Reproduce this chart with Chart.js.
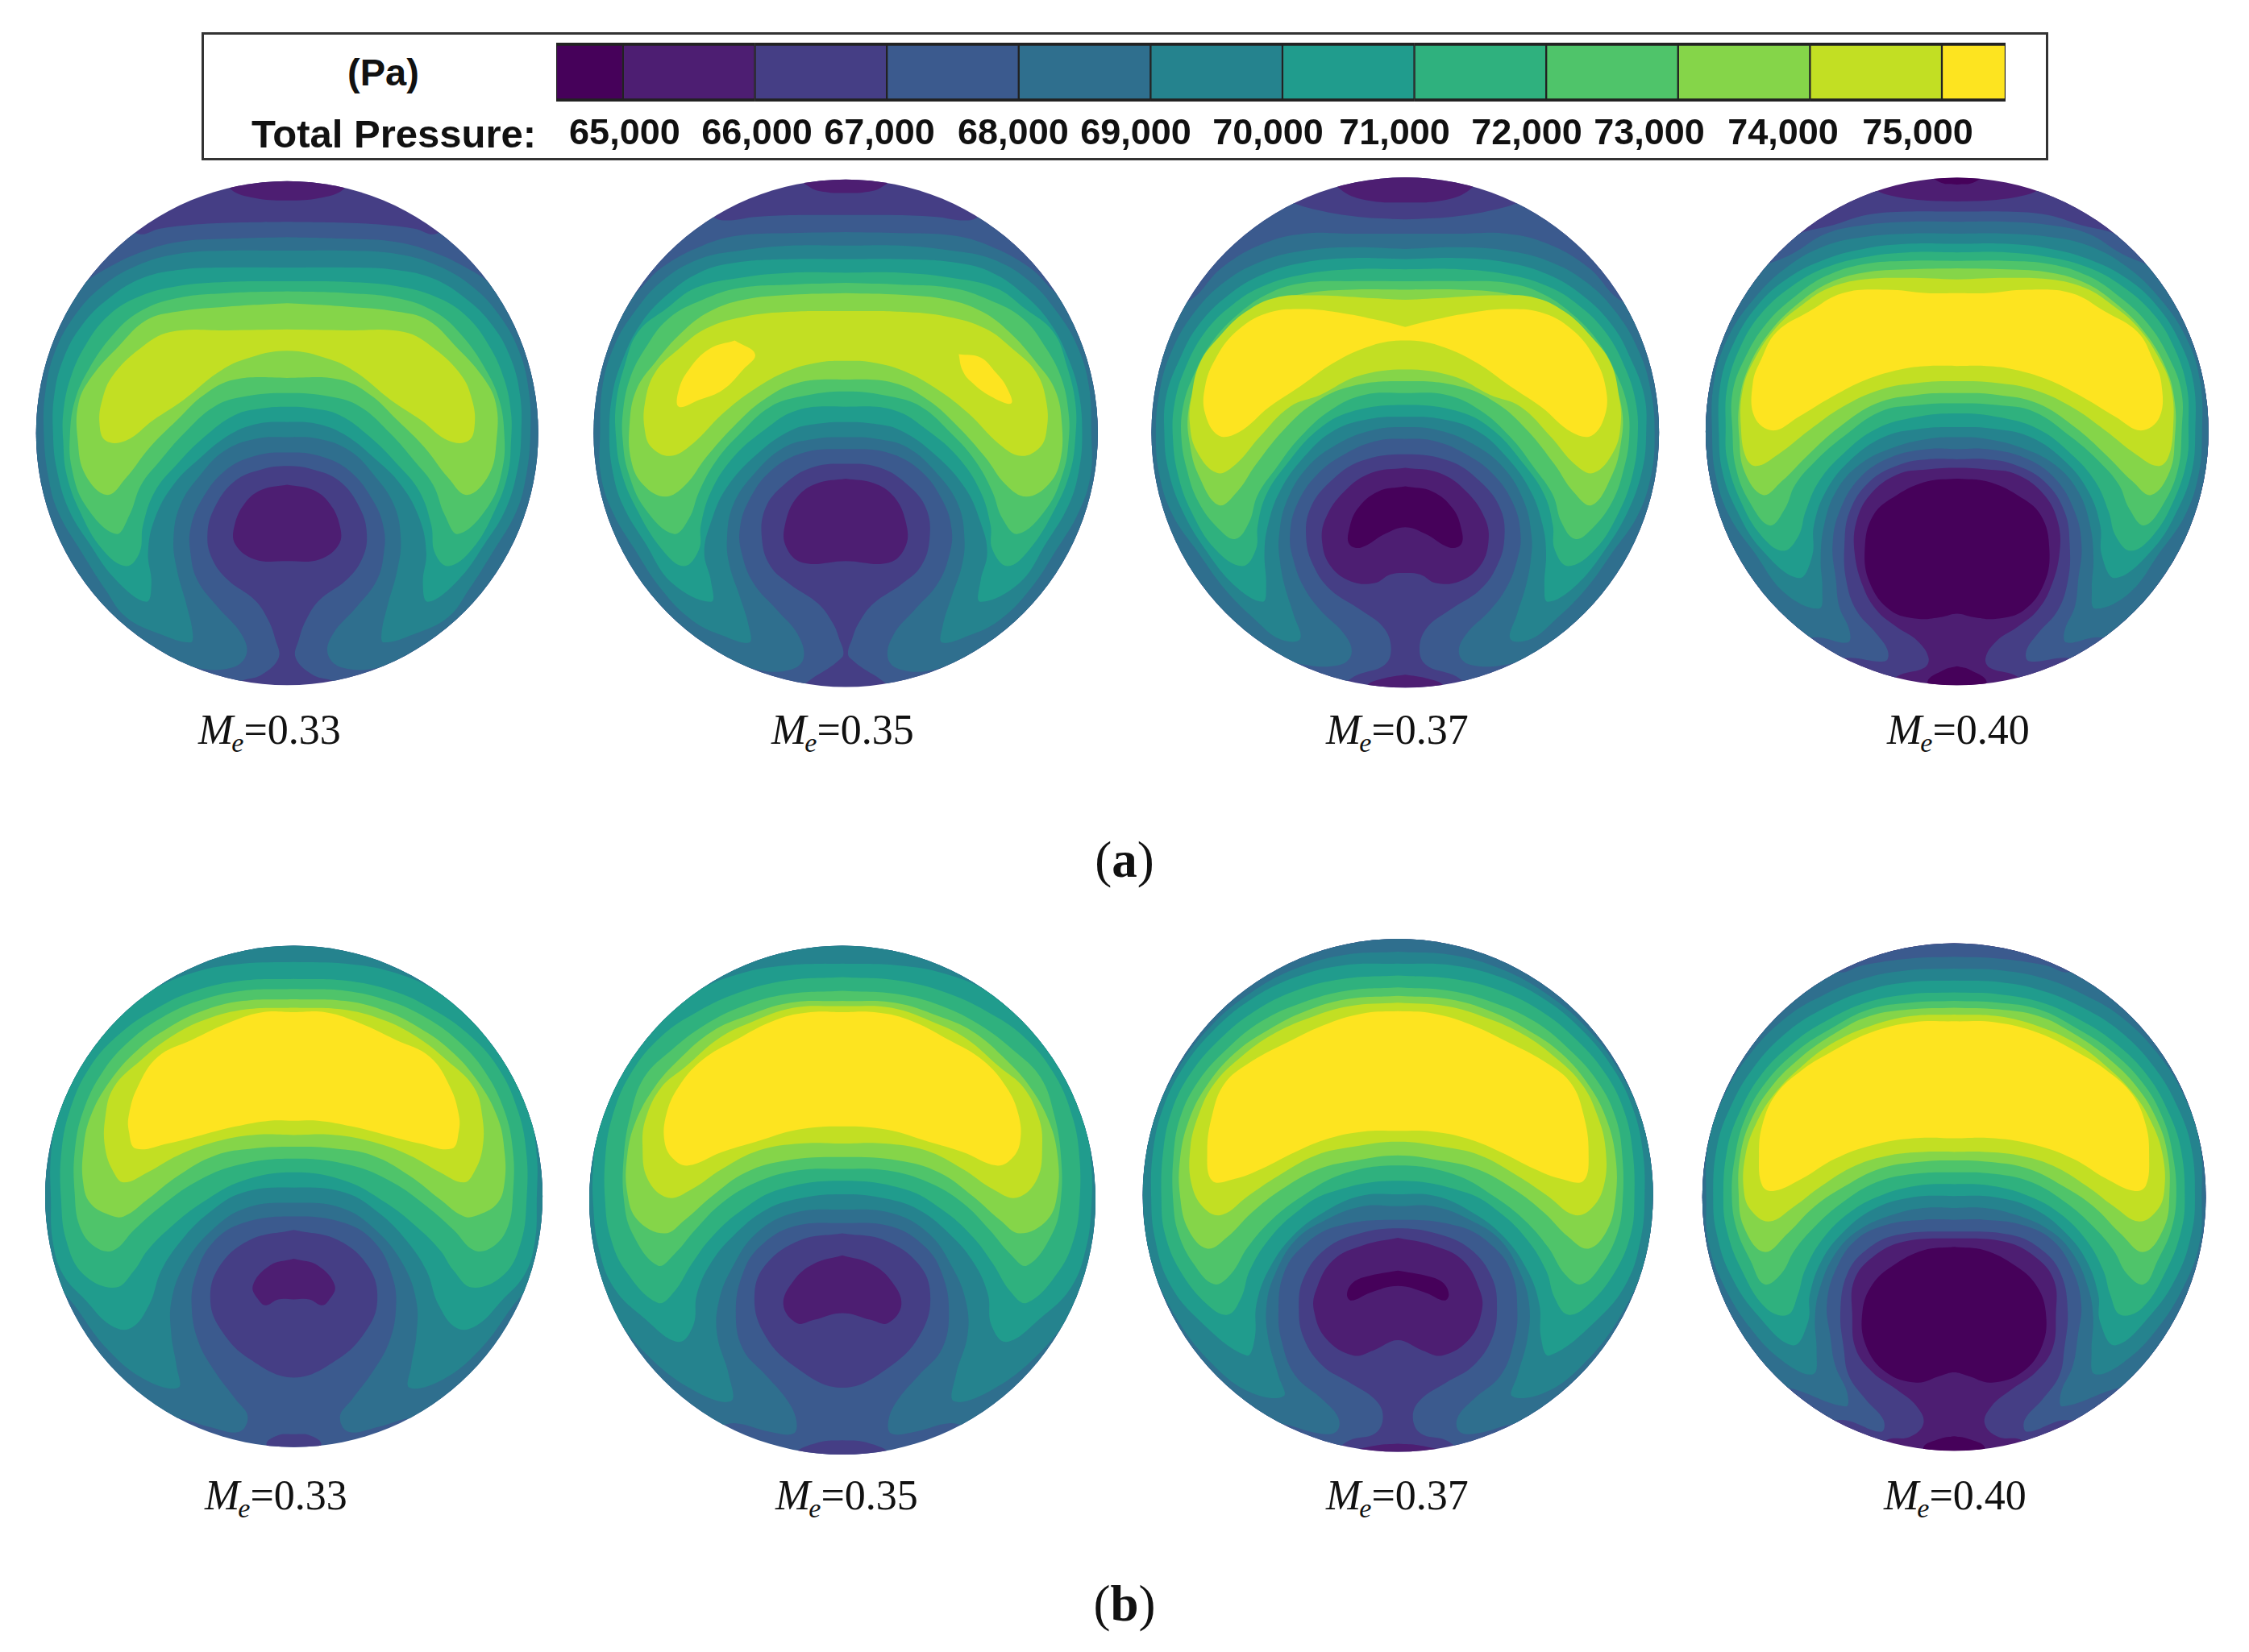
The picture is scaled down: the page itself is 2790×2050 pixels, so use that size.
<!DOCTYPE html>
<html>
<head>
<meta charset="utf-8">
<title>Total pressure contours</title>
<script src="https://cdn.jsdelivr.net/npm/chart.js@4"></script>
<style>
body { margin: 0; background: #fff; width: 2790px; height: 2050px; position: relative; overflow: hidden; }
canvas { position: absolute; }
.frame { position: absolute; left: 250px; top: 40px; width: 2285px; height: 153px; border: 3px solid #333; }
.bar-text { position: absolute; font: bold 47px "Liberation Sans", Arial, sans-serif; color: #111; line-height: 1; white-space: nowrap; }
.mach { position: absolute; font: 52px "Liberation Serif", serif; line-height: 1; color: #111; white-space: nowrap; }
.mach i.sub { font-size: 34px; position: relative; top: 10px; line-height: 0; margin-left: -2px; }
.panel { position: absolute; font: 63px "Liberation Serif", serif; line-height: 1; color: #111; width: 200px; text-align: center; }
</style>
</head>
<body>
<div class="frame"></div>
<div class="bar-text" style="left:431px;top:66px">(Pa)</div>
<div class="bar-text" style="left:312px;top:142px;font-size:49px">Total Pressure:</div>

<script>
// colour bar
var levelEdges = [64493, 65000, 66000, 67000, 68000, 69000, 70000, 71000, 72000, 73000, 74000, 75000, 75483];
var levelColors = ["#46015a", "#4d1e72", "#453e85", "#3b5a8e", "#2f6f8e", "#25838e", "#209c8d", "#2fb17e", "#4fc46a", "#85d549", "#c2df23", "#fde420"];
var tickLabels = ["65,000", "66,000", "67,000", "68,000", "69,000", "70,000", "71,000", "72,000", "73,000", "74,000", "75,000"];
// where each label sits on the pressure scale in the picture, they are not exactly on the thousands
var tickAnchors = [65012, 66015, 66944, 67958, 68888, 69890, 70850, 71852, 72781, 73796, 74817];

var machLabels = ["0.33", "0.35", "0.37", "0.40"];
var panelLabels = ["a", "b"];

// contours: [level index, half outline x,y,x,y...] read off each disc, going from the
// top of the centre line round the left side back to the centre line. third item true = whole outline
var contoursA33 = [
  [3, [775,155,600,158,480,165,400,175,335,190,250,120,40,300,0,770,60,1300,380,1500,560,1530,650,1505,700,1490,750,1440,740,1385,720,1330,680,1270,600,1210,555,1150,540,1080,560,1000,620,920,700,885,775,875]],
  [4, [775,200,600,205,450,215,330,250,230,300,150,350,40,400,0,770,60,1300,380,1420,500,1468,610,1470,655,1430,640,1370,570,1290,510,1210,490,1130,490,1060,520,980,590,890,680,845,775,835]],
  [5, [775,240,600,240,450,250,330,285,230,345,150,430,90,540,62,660,58,780,70,900,100,1010,170,1130,240,1240,300,1320,400,1370,490,1395,497,1370,480,1290,450,1180,440,1090,460,990,520,900,590,830,680,795,775,790]],
  [6, [775,290,600,290,470,295,350,320,250,380,170,460,115,560,88,670,85,780,95,880,130,1000,190,1100,270,1210,360,1275,375,1220,365,1130,385,1030,440,930,520,850,610,780,690,750,775,745]],
  [7, [775,330,600,332,450,345,340,375,250,430,180,520,135,620,115,720,115,800,125,900,165,1010,230,1120,300,1170,340,1130,350,1050,385,950,450,870,530,790,620,725,700,705,775,700]],
  [8, [775,360,600,365,450,380,340,420,260,490,190,590,150,680,135,780,140,880,180,990,270,1075,310,1020,345,930,400,860,470,780,560,700,650,670,775,660]],
  [9, [775,395,600,405,450,420,360,445,280,520,200,610,160,690,158,800,180,900,245,960,300,910,370,820,450,740,530,665,620,620,775,615]],
  [10, [775,472,600,475,430,480,340,530,260,610,230,680,222,750,240,800,300,800,380,740,470,680,570,600,650,560,775,535]],
  [1, [775,20,600,20,610,60,680,85,775,92]],
  [1, [775,930,700,945,650,985,620,1050,622,1105,680,1150,775,1155]]
];
var contoursA35 = [
  [3, [782,135,650,135,520,140,415,150,340,120,40,300,0,770,60,1300,380,1500,620,1530,700,1490,770,1440,775,1420,765,1390,745,1340,700,1280,620,1225,560,1170,535,1090,545,1000,600,930,680,880,782,868]],
  [4, [782,185,620,188,470,195,360,225,240,290,140,380,40,400,0,770,60,1300,400,1425,520,1475,620,1475,658,1440,640,1370,580,1300,510,1220,475,1130,470,1060,495,980,560,890,660,835,782,825]],
  [5, [782,225,620,225,470,240,350,265,240,330,160,420,100,520,65,640,58,780,60,900,95,1010,160,1120,240,1240,330,1330,420,1375,498,1395,497,1350,470,1260,440,1170,432,1090,450,990,510,900,600,820,690,795,782,790]],
  [6, [782,265,620,265,460,275,350,305,250,375,175,460,125,560,95,660,85,780,95,890,125,990,190,1100,270,1220,385,1275,385,1215,365,1130,385,1040,430,940,520,840,620,770,700,750,782,745]],
  [7, [782,305,620,305,470,320,340,350,255,410,170,480,130,580,105,690,105,790,120,890,165,1000,240,1120,305,1170,350,1120,355,1050,385,950,450,850,540,770,640,710,782,700]],
  [8, [782,335,620,340,470,350,360,385,260,440,190,530,145,620,125,720,125,800,140,890,190,1000,275,1075,320,1030,350,950,400,860,470,780,560,700,650,670,782,655]],
  [9, [782,365,620,370,480,385,380,420,300,480,220,570,165,650,145,750,150,860,185,930,250,965,310,930,370,850,450,760,540,680,640,630,782,620]],
  [10, [782,418,620,420,480,435,370,470,290,530,220,600,190,690,190,770,210,820,265,845,330,810,420,720,510,650,610,595,700,570,782,565]],
  [11, [455,505,515,545,480,590,420,650,350,680,290,700,290,650,320,590,380,530], true],
  [11, [1115,545,1180,555,1225,600,1255,640,1270,690,1210,670,1150,625,1125,590], true],
  [1, [782,15,640,15,680,55,730,68,782,70]],
  [1, [782,912,700,925,640,965,605,1040,605,1110,655,1160,782,1155]]
];
var contoursA37 = [
  [3, [780,148,640,140,520,120,440,95,380,60,60,60,0,770,60,1300,380,1500,560,1530,640,1490,720,1460,738,1410,715,1350,650,1300,560,1240,510,1170,488,1090,500,1000,560,920,650,860,780,840]],
  [4, [780,190,620,190,480,190,360,220,240,290,140,390,40,400,0,770,60,1300,380,1425,480,1460,590,1460,622,1425,600,1370,530,1300,480,1230,450,1150,440,1080,460,990,520,900,610,835,700,800,780,795]],
  [5, [780,235,620,230,480,240,360,270,250,330,160,420,90,540,55,660,45,780,55,900,95,1020,170,1130,250,1240,340,1330,410,1385,470,1385,450,1310,425,1230,410,1150,408,1080,430,980,490,880,580,810,680,770,780,760]],
  [6, [780,265,620,262,480,275,360,310,260,370,170,460,115,560,75,670,70,780,80,880,120,1000,190,1120,280,1230,360,1275,370,1230,365,1130,375,1050,410,950,480,850,570,770,680,735,780,730]],
  [7, [780,295,620,295,480,310,360,345,270,400,190,480,130,590,100,690,95,790,110,900,150,1010,220,1120,300,1170,340,1120,345,1050,370,960,430,870,520,770,620,715,780,695]],
  [8, [780,330,620,330,480,335,380,365,290,425,210,510,155,610,125,700,120,790,135,880,170,980,230,1060,280,1090,320,1040,345,960,400,880,470,790,560,710,660,665,780,660]],
  [9, [780,355,620,355,490,365,380,395,290,450,215,540,165,630,140,720,145,810,170,900,230,990,285,950,340,870,420,770,510,690,620,640,780,625]],
  [10, [780,385,650,378,510,372,400,378,310,420,235,490,175,570,150,670,145,750,165,830,225,895,280,870,350,790,440,700,530,665,640,610,780,590]],
  [11, [780,465,700,445,600,425,480,412,370,425,280,480,220,560,190,640,190,720,230,785,290,775,380,700,470,640,570,570,680,520,780,505]],
  [1, [780,10,560,10,590,60,660,90,780,98]],
  [1, [780,1490,720,1500,670,1520,700,1544,780,1544]],
  [1, [780,880,680,895,600,950,545,1030,535,1100,560,1170,620,1215,690,1220,735,1195,780,1190]],
  [0, [780,935,700,950,640,1000,615,1060,615,1105,650,1115,720,1075,780,1055]]
];
var contoursA40 = [
  [2, [767,95,650,90,560,75,490,50,60,60,0,770,60,1300,380,1500,530,1530,600,1490,670,1470,683,1440,650,1390,590,1350,530,1300,490,1230,465,1130,470,1040,510,960,590,900,680,885,767,880]],
  [3, [767,125,620,125,500,135,400,165,300,190,40,300,0,770,60,1300,350,1450,450,1440,555,1450,563,1420,530,1370,470,1300,440,1210,435,1110,450,1010,510,920,600,870,680,855,767,855]],
  [4, [767,155,620,155,490,165,380,190,280,250,170,300,40,400,0,770,60,1200,270,1380,360,1380,445,1395,450,1360,420,1290,410,1210,400,1110,420,1010,480,910,570,850,680,825,767,825]],
  [5, [767,190,620,190,490,200,380,225,270,285,170,380,90,500,50,630,45,780,55,900,95,1020,170,1130,260,1250,360,1295,370,1240,365,1150,375,1050,410,950,480,870,580,820,680,795,767,790]],
  [6, [767,220,620,220,490,235,380,265,270,320,180,400,110,510,70,630,65,780,75,890,115,1000,190,1120,300,1205,340,1140,345,1050,380,950,450,860,550,790,660,765,767,760]],
  [7, [767,245,620,245,490,260,380,290,280,345,190,425,130,520,90,640,85,760,90,860,130,980,190,1080,255,1125,300,1080,320,1010,360,920,430,840,530,765,650,730,767,720]],
  [8, [767,270,620,270,490,280,380,315,290,375,205,455,140,560,105,660,105,770,115,880,155,980,215,1050,260,1000,290,930,350,860,430,790,540,715,650,695,767,690]],
  [9, [767,292,620,295,490,305,390,335,300,395,215,480,150,590,125,690,125,790,140,890,195,960,250,920,330,840,420,760,530,690,650,665,767,660]],
  [10, [767,325,620,320,490,325,390,350,310,400,235,465,170,560,135,650,130,760,145,850,175,875,240,840,330,770,430,700,540,650,650,630,767,625]],
  [11, [767,365,680,365,560,355,430,365,330,420,235,480,190,560,165,630,170,730,225,770,300,730,400,670,500,620,600,590,680,580,767,580]],
  [0, [767,45,720,40,690,15,767,10]],
  [0, [767,912,680,920,590,960,520,1020,495,1120,510,1220,570,1300,650,1325,720,1320,767,1310]],
  [0, [767,1465,730,1475,680,1510,720,1544,767,1544]]
];
var contoursB33 = [
  [4, [771,10,60,10,0,770,60,1300,300,1450,420,1425,520,1450,610,1465,635,1420,600,1370,540,1290,490,1200,470,1100,480,1010,530,910,620,850,771,830]],
  [5, [771,10,100,10,0,770,60,1000,130,1100,220,1220,330,1310,430,1335,425,1270,410,1180,410,1080,450,970,530,870,630,805,771,790]],
  [6, [771,80,620,85,480,110,350,165,230,250,140,360,80,500,55,650,55,780,60,900,90,1000,160,1080,230,1150,290,1160,345,1090,380,990,440,900,520,820,620,760,771,745]],
  [7, [771,130,620,135,480,165,370,215,260,290,170,390,110,520,85,650,85,780,100,900,150,1000,245,1040,300,990,340,930,410,860,500,790,620,725,771,700]],
  [8, [771,160,620,165,490,195,380,245,290,310,210,400,150,520,125,640,125,760,140,860,185,920,240,930,300,870,380,800,480,730,600,680,771,660]],
  [9, [771,190,620,195,500,225,400,275,310,340,230,430,170,540,150,640,150,730,170,790,225,825,270,830,340,780,430,710,540,650,650,630,771,625]],
  [10, [771,215,630,220,510,250,410,300,320,370,240,450,215,540,215,630,240,700,270,730,340,700,430,650,540,610,650,590,771,590]],
  [11, [771,228,680,228,590,255,470,310,370,360,310,450,285,530,285,580,305,630,400,615,500,590,600,565,700,548,771,548]],
  [2, [771,870,640,900,550,980,525,1080,560,1170,640,1250,771,1305]],
  [2, [771,1472,725,1475,690,1500,720,1525,771,1525]],
  [1, [771,955,700,975,650,1035,670,1080,690,1092,725,1075,771,1075]]
];
var contoursB35 = [
  [4, [784,10,60,10,0,770,60,1300,380,1450,470,1440,570,1465,640,1470,648,1430,620,1370,560,1300,490,1220,470,1110,490,1000,540,920,640,860,784,850]],
  [5, [784,10,100,10,0,770,50,1000,100,1100,200,1230,340,1340,455,1375,450,1300,415,1180,420,1080,460,980,530,880,640,820,784,810]],
  [6, [784,85,620,90,480,115,350,170,230,265,130,390,70,540,50,680,50,800,65,920,110,1040,200,1130,300,1200,345,1150,355,1060,395,970,460,890,560,810,670,775,784,765]],
  [7, [784,125,620,135,480,170,360,225,250,300,160,410,105,540,85,660,85,790,100,890,145,990,240,1085,290,1050,340,970,400,890,490,810,600,750,784,725]],
  [8, [784,165,620,175,490,210,380,265,280,340,200,420,160,530,140,650,140,780,165,880,240,975,290,940,350,870,430,790,530,730,650,695,784,690]],
  [9, [784,195,630,200,500,240,400,285,300,370,230,450,175,550,150,650,150,760,180,840,260,880,320,840,400,770,500,700,620,665,784,655]],
  [10, [784,210,640,215,510,260,420,305,320,390,250,450,205,540,195,620,210,720,270,775,340,750,430,690,540,635,660,615,784,615]],
  [11, [784,228,690,228,590,250,470,310,370,370,300,450,265,530,260,610,285,660,330,680,430,640,530,610,650,575,784,565]],
  [2, [784,880,660,900,560,970,525,1060,550,1170,640,1270,784,1335]],
  [2, [784,1490,720,1495,650,1525,700,1544,784,1544]],
  [1, [784,945,700,970,640,1020,610,1090,650,1145,700,1135,784,1115]]
];
var contoursB37 = [
  [3, [782,5,60,10,0,770,60,1300,380,1500,560,1540,640,1490,715,1470,738,1420,715,1370,640,1320,560,1270,505,1190,490,1100,505,1010,570,925,670,880,782,865]],
  [4, [782,5,60,10,0,770,60,1300,300,1440,430,1440,550,1470,600,1465,607,1425,560,1370,480,1300,440,1200,430,1110,445,1000,500,920,600,860,782,840]],
  [5, [782,50,620,60,480,100,350,170,230,270,130,400,60,550,35,680,30,780,50,950,130,1130,240,1270,350,1350,445,1360,430,1300,400,1190,395,1090,420,1000,480,900,570,840,680,800,782,800]],
  [6, [782,85,620,90,480,125,350,190,240,280,150,390,90,510,60,640,55,780,65,890,105,1020,190,1130,335,1240,360,1190,365,1090,400,990,470,890,560,820,670,770,782,765]],
  [7, [782,120,620,130,480,165,360,225,255,310,170,410,115,520,90,640,85,780,95,880,140,990,220,1090,280,1120,320,1070,345,990,400,900,480,820,580,760,782,725]],
  [8, [782,155,630,165,500,200,380,255,280,335,195,430,140,540,120,660,120,790,135,880,180,970,240,1030,290,1000,340,920,410,840,500,770,620,705,782,680]],
  [9, [782,180,630,190,510,225,400,280,300,350,215,450,165,550,140,660,140,770,165,870,220,925,280,890,350,820,440,750,550,690,660,665,782,650]],
  [10, [782,200,640,210,520,245,410,295,320,360,240,440,195,530,170,630,175,740,215,810,265,825,340,770,430,710,540,650,650,625,782,610]],
  [11, [782,225,690,230,580,260,450,320,340,380,270,440,235,530,220,640,235,725,300,720,380,690,480,640,580,600,680,580,782,578]],
  [1, [782,893,680,915,590,960,540,1050,535,1110,570,1190,650,1240,710,1225,782,1195]],
  [1, [782,1500,720,1505,650,1525,700,1544,782,1544]],
  [0, [782,990,700,1005,650,1025,632,1060,645,1078,700,1055,782,1035]]
];
var contoursB40 = [
  [2, [770,10,60,10,0,770,60,1300,380,1500,530,1540,570,1490,640,1480,680,1440,660,1390,600,1340,530,1290,480,1220,470,1120,475,1020,530,950,620,905,770,895]],
  [3, [770,10,60,10,0,770,60,1300,300,1450,440,1430,555,1465,562,1430,510,1370,460,1300,445,1220,435,1110,455,1000,510,930,600,885,770,875]],
  [4, [770,65,640,70,500,90,430,110,380,60,60,60,0,770,60,1200,150,1300,300,1340,450,1390,455,1350,420,1270,405,1180,395,1090,420,990,480,900,570,855,680,840,770,840]],
  [5, [770,100,630,105,500,130,390,175,280,240,170,350,90,480,45,620,40,780,45,900,85,1020,170,1160,270,1260,355,1295,365,1230,360,1130,375,1040,420,940,490,870,590,825,680,805,770,805]],
  [6, [770,135,630,140,510,165,390,215,280,285,180,390,110,510,70,630,60,780,70,880,110,1000,190,1120,295,1210,340,1140,345,1060,380,960,440,880,530,810,640,775,770,770]],
  [7, [770,170,640,175,510,200,400,250,300,315,200,415,135,530,100,640,90,780,100,870,140,980,215,1100,280,1120,310,1060,330,990,380,900,460,820,550,770,660,740,770,735]],
  [8, [770,195,640,200,520,220,410,275,310,340,215,435,155,540,125,650,115,770,130,870,170,960,210,1030,260,1000,300,930,360,860,440,790,540,730,650,705,770,700]],
  [9, [770,215,640,220,520,240,420,290,320,360,230,450,170,550,140,650,135,760,150,860,210,935,280,880,360,800,450,740,550,690,660,670,770,665]],
  [10, [770,235,640,240,520,270,420,315,330,380,240,470,185,560,155,650,150,750,170,810,225,845,300,800,380,740,480,680,580,650,680,640,770,640]],
  [11, [770,255,650,258,520,290,400,350,320,400,245,470,205,560,195,650,205,740,240,755,320,720,420,660,530,620,650,600,770,600]],
  [0, [770,920,680,930,590,975,530,1030,500,1110,510,1210,570,1290,660,1320,730,1300,770,1290]],
  [0, [770,1478,730,1485,680,1510,710,1544,770,1544]]
];

Chart.defaults.animation = false;
Chart.defaults.events = [];

// cuts everything drawn in a chart down to the disc
var discClip = {
    id: "discClip",
    beforeDatasetsDraw: function(chart, args, opts) {
        var sx = chart.scales.x, sy = chart.scales.y, ctx = chart.ctx;
        var px = sx.getPixelForValue(opts.cx), py = sy.getPixelForValue(opts.cy);
        var rx = sx.getPixelForValue(opts.cx + opts.rx) - px;
        var ry = sy.getPixelForValue(opts.cy + opts.ry) - py;
        ctx.save();
        ctx.beginPath();
        ctx.ellipse(px, py, rx, ry, 0, 0, Math.PI * 2);
        ctx.clip();
    },
    afterDatasetsDraw: function(chart) {
        chart.ctx.restore();
    }
};

function makeCanvas(left, top, width, height) {
    var c = document.createElement("canvas");
    c.width = width;
    c.height = height;
    c.style.left = left + "px";
    c.style.top = top + "px";
    document.body.appendChild(c);
    return c;
}

function outlinePoints(flat, cx, whole) {
    var pts = [];
    for (var i = 0; i < flat.length; i += 2) {
        pts.push({ x: flat[i], y: flat[i + 1] });
    }
    if (!whole) {
        // the right side is the left side turned over the centre line
        for (var j = pts.length - 2; j > 0; j--) {
            pts.push({ x: 2 * cx - pts[j].x, y: pts[j].y });
        }
    }
    pts.push(pts[0]);
    return pts;
}

function drawDisc(d) {
    var sets = [{
        data: [{ x: 0, y: 0 }, { x: 1568, y: 0 }, { x: 1568, y: 1544 }, { x: 0, y: 1544 }, { x: 0, y: 0 }],
        backgroundColor: levelColors[d.base],
        tension: 0
    }];
    d.contours.forEach(function(c) {
        sets.push({
            data: outlinePoints(c[1], d.cx, c[2]),
            backgroundColor: levelColors[c[0]]
        });
    });
    sets.forEach(function(s, i) {
        s.order = sets.length - i;
        s.fill = "shape";
        s.showLine = true;
        s.borderWidth = 0;
        s.pointRadius = 0;
        if (s.tension === undefined) s.tension = 0.4;
    });
    new Chart(makeCanvas(d.left, d.top, 660, 650), {
        type: "scatter",
        data: { datasets: sets },
        plugins: [discClip],
        options: {
            responsive: false,
            layout: { padding: 0 },
            scales: {
                x: { type: "linear", min: 0, max: 1568, display: false },
                y: { type: "linear", min: 0, max: 1544, reverse: true, display: false }
            },
            plugins: {
                legend: { display: false },
                tooltip: { enabled: false },
                discClip: { cx: d.cx, cy: d.cy, rx: d.rx, ry: d.ry }
            }
        }
    });
}

[
    { left: 30, top: 210, cx: 775, cy: 778, rx: 740, ry: 743, base: 2, contours: contoursA33 },
    { left: 720, top: 210, cx: 782, cy: 778, rx: 743, ry: 748, base: 2, contours: contoursA35 },
    { left: 1415, top: 210, cx: 780, cy: 776, rx: 748, ry: 752, base: 2, contours: contoursA37 },
    { left: 2105, top: 210, cx: 767, cy: 773, rx: 741, ry: 748, base: 1, contours: contoursA40 },
    { left: 40, top: 1160, cx: 771, cy: 771, rx: 733, ry: 739, base: 3, contours: contoursB33 },
    { left: 715, top: 1160, cx: 784, cy: 782, rx: 746, ry: 750, base: 3, contours: contoursB35 },
    { left: 1405, top: 1160, cx: 782, cy: 768, rx: 752, ry: 756, base: 2, contours: contoursB37 },
    { left: 2100, top: 1160, cx: 770, cy: 773, rx: 742, ry: 748, base: 1, contours: contoursB40 }
].forEach(drawDisc);

// legend bar, one floating bar per pressure band
new Chart(makeCanvas(600, 49, 1980, 150), {
    type: "bar",
    data: {
        labels: ["Total Pressure"],
        datasets: levelColors.map(function(color, i) {
            return {
                data: [[levelEdges[i], levelEdges[i + 1]]],
                backgroundColor: color,
                borderColor: "#222",
                borderWidth: { top: 4, bottom: 4, left: 1.5, right: 1.5 },
                borderSkipped: false,
                grouped: false,
                barPercentage: 1,
                categoryPercentage: 1
            };
        })
    },
    options: {
        indexAxis: "y",
        responsive: false,
        layout: { padding: { left: 90, right: 92, top: 4, bottom: 0 } },
        scales: {
            x: {
                type: "linear",
                min: levelEdges[0],
                max: levelEdges[levelEdges.length - 1],
                grid: { display: false },
                border: { display: false },
                afterBuildTicks: function(axis) {
                    axis.ticks = tickAnchors.map(function(v) { return { value: v }; });
                },
                ticks: {
                    autoSkip: false,
                    maxRotation: 0,
                    padding: 6,
                    color: "#111",
                    font: { family: "'Liberation Sans', Arial, sans-serif", weight: "bold", size: 45 },
                    callback: function(value, index) { return tickLabels[index]; }
                }
            },
            y: { display: false, stacked: false }
        },
        plugins: {
            legend: { display: false },
            tooltip: { enabled: false }
        }
    }
});

// captions
var machLeft = [[246, 957, 1645, 2341], [254, 962, 1645, 2337]];
var machTop = [880, 1830];
machLeft.forEach(function(row, r) {
    row.forEach(function(left, i) {
        var el = document.createElement("div");
        el.className = "mach";
        el.style.left = left + "px";
        el.style.top = machTop[r] + "px";
        el.innerHTML = "<i>M</i><i class=\"sub\">e</i>=" + machLabels[i];
        document.body.appendChild(el);
    });
    var cap = document.createElement("div");
    cap.className = "panel";
    cap.style.left = "1295px";
    cap.style.top = (r === 0 ? 1036 : 1959) + "px";
    cap.innerHTML = "(<b>" + panelLabels[r] + "</b>)";
    document.body.appendChild(cap);
});
</script>
</body>
</html>
